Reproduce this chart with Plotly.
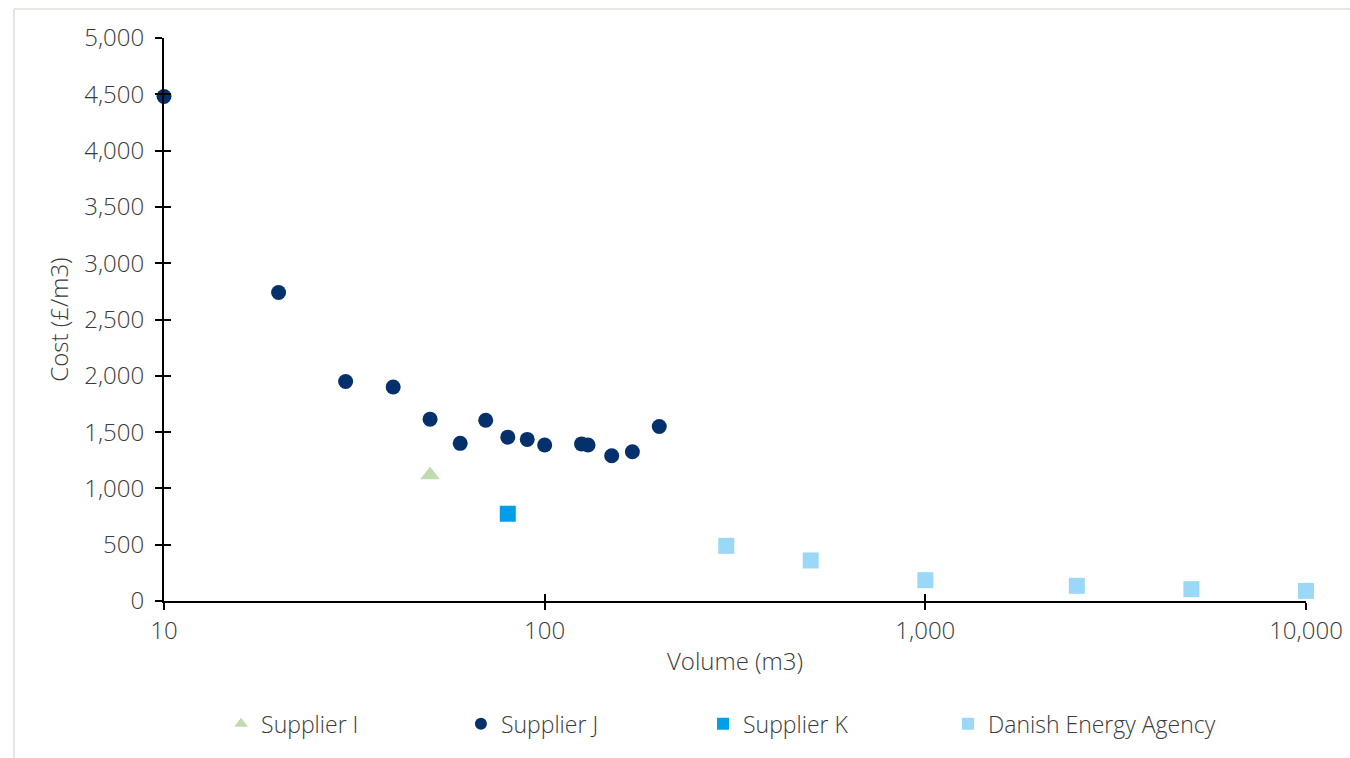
import plotly.graph_objects as go

# Storage volume (m3) and unit cost (£/m3) by source
supplier_i_volume = [50]
supplier_i_cost = [1120]

supplier_j_volume = [10, 20, 30, 40, 50, 60, 70, 80, 90, 100, 125, 130, 150, 170, 200]
supplier_j_cost = [4480, 2740, 1950, 1900, 1615, 1400, 1605, 1455, 1435, 1385, 1395, 1385, 1290, 1325, 1550]

supplier_k_volume = [80]
supplier_k_cost = [775]

dea_volume = [300, 500, 1000, 2500, 5000, 10000]
dea_cost = [490, 360, 185, 135, 105, 90]

x_tick_vals = [10, 100, 1000, 10000]
x_tick_text = ["10", "100", "1,000", "10,000"]
y_tick_vals = [0, 500, 1000, 1500, 2000, 2500, 3000, 3500, 4000, 4500, 5000]

FONT = "Open Sans"
TEXT = "#3a3a3a"
FSIZE = 24

fig = go.Figure()
fig.add_trace(go.Scatter(x=supplier_i_volume, y=supplier_i_cost, mode="markers", name="Supplier I",
                         cliponaxis=False, legend="legend",
                         marker=dict(symbol="triangle-up", size=17, color="#bfdcb0")))
fig.add_trace(go.Scatter(x=supplier_j_volume, y=supplier_j_cost, mode="markers", name="Supplier J",
                         cliponaxis=False, legend="legend2",
                         marker=dict(symbol="circle", size=15, color="#04316b")))
fig.add_trace(go.Scatter(x=supplier_k_volume, y=supplier_k_cost, mode="markers", name="Supplier K",
                         cliponaxis=False, legend="legend3",
                         marker=dict(symbol="square", size=16, color="#00a0e9")))
fig.add_trace(go.Scatter(x=dea_volume, y=dea_cost, mode="markers", name="Danish Energy Agency",
                         cliponaxis=False, legend="legend4",
                         marker=dict(symbol="square", size=16, color="#9bd7f7")))

axis_common = dict(showgrid=False, zeroline=False, showline=True, linecolor="black", linewidth=2,
                   ticks="outside", ticklen=7, tickwidth=2, tickcolor="black",
                   tickfont=dict(family=FONT, size=FSIZE, color=TEXT, weight=300))

legend_font = dict(family=FONT, size=FSIZE - 1, color=TEXT, weight=300)


def legend_at(x):
    return dict(orientation="h", x=x, xanchor="left", y=-0.218, yanchor="middle",
                itemwidth=30, itemsizing="constant", bgcolor="rgba(0,0,0,0)", font=legend_font)


fig.update_layout(
    width=1350, height=758,
    margin=dict(l=164, r=44, t=38, b=157, autoexpand=False),
    paper_bgcolor="white", plot_bgcolor="white",
    font=dict(family=FONT, size=FSIZE, color=TEXT, weight=300),
    xaxis=dict(type="log", range=[1, 4], tickvals=x_tick_vals, ticktext=x_tick_text,
               title=dict(text="Volume (m3)", font=dict(family=FONT, size=FSIZE, color=TEXT, weight=300),
                          standoff=8),
               **axis_common),
    yaxis=dict(range=[0, 5000], tickvals=y_tick_vals, tickformat=",", ticklabelstandoff=6,
               title=dict(text="Cost (£/m3)", font=dict(family=FONT, size=FSIZE, color=TEXT, weight=300),
                          standoff=9),
               **axis_common),
    # mirror axes carrying the inner half of the crossing tick marks
    xaxis2=dict(type="log", range=[1, 4], overlaying="x", side="bottom", tickvals=x_tick_vals,
                showticklabels=False, showgrid=False, zeroline=False, showline=False,
                ticks="inside", ticklen=7, tickwidth=2, tickcolor="black"),
    yaxis2=dict(range=[0, 5000], overlaying="y", side="left", tickvals=y_tick_vals,
                showticklabels=False, showgrid=False, zeroline=False, showline=False,
                ticks="inside", ticklen=7, tickwidth=2, tickcolor="black"),
    legend=legend_at(0.050),
    legend2=legend_at(0.260),
    legend3=legend_at(0.472),
    legend4=legend_at(0.6865),
    showlegend=True,
)

# invisible trace so the mirror axes get drawn
fig.add_trace(go.Scatter(x=[10], y=[0], xaxis="x2", yaxis="y2", mode="markers",
                         marker=dict(opacity=0), showlegend=False, hoverinfo="skip"))

# light frame along the top and left edges of the chart area
frame_color = "#e6e6e0"
fig.add_shape(type="line", xref="paper", yref="paper", x0=(14 - 164) / 1142, x1=(1350 - 164) / 1142,
              y0=(601 - 9) / 563, y1=(601 - 9) / 563, line=dict(color=frame_color, width=2))
fig.add_shape(type="line", xref="paper", yref="paper", x0=(14 - 164) / 1142, x1=(14 - 164) / 1142,
              y0=(601 - 9) / 563, y1=(601 - 760) / 563, line=dict(color=frame_color, width=2))

fig.write_html("out.html")
